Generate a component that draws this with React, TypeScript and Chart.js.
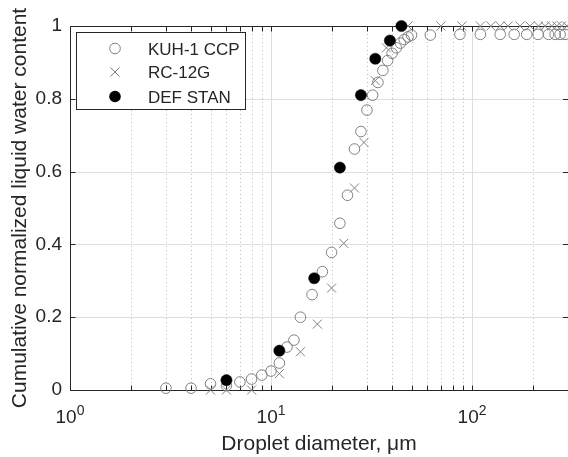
import React, { useEffect, useRef } from 'react';
import { Chart, registerables } from 'chart.js';

Chart.register(...registerables);

// ---- data ----
const kuhDiameter = [3, 4, 5, 6, 7, 8, 9, 10, 11, 12, 13, 14, 16, 18, 20, 22, 24, 26, 28, 30, 32, 34, 36, 38, 40, 42, 44, 46, 48, 50, 62, 87, 110, 138, 162, 187, 213, 240, 259, 274, 290];
const kuhLwc = [0.005, 0.005, 0.017, 0.012, 0.022, 0.03, 0.041, 0.052, 0.074, 0.118, 0.137, 0.2, 0.262, 0.325, 0.378, 0.458, 0.535, 0.662, 0.71, 0.769, 0.81, 0.845, 0.878, 0.905, 0.925, 0.94, 0.953, 0.963, 0.97, 0.975, 0.975, 0.977, 0.977, 0.977, 0.977, 0.977, 0.977, 0.977, 0.977, 0.977, 0.977];

const rcDiameter = [5, 6, 8, 11, 14, 17, 20, 23, 26, 29, 33, 37.5, 48, 70, 89, 110, 124, 138, 151, 173, 194, 214, 231, 249, 264, 279, 296];
const rcLwc = [0, 0, 0, 0.045, 0.105, 0.181, 0.28, 0.403, 0.555, 0.68, 0.85, 0.94, 1, 1, 1, 1, 1, 1, 1, 1, 1, 1, 1, 1, 1, 1, 1];

const defDiameter = [6, 11, 16.4, 22, 28, 33, 39, 44.5];
const defLwc = [0.027, 0.108, 0.307, 0.611, 0.81, 0.91, 0.96, 1.0];

const seriesNames = ['KUH-1 CCP', 'RC-12G', 'DEF STAN'];

const yTickValues = [0, 0.2, 0.4, 0.6, 0.8, 1];
const yTickLabels = ['0', '0.2', '0.4', '0.6', '0.8', '1'];
const xDecadeValues = [1, 10, 100];
const xDecadeBase = '10';
const xDecadeExponents = ['0', '1', '2'];
const xMinorValues = [2, 3, 4, 5, 6, 7, 8, 9, 20, 30, 40, 50, 60, 70, 80, 90, 200, 300];

const xTitle = 'Droplet diameter, \u03BCm';
const yTitle = 'Cumulative normalized liquid water content';

// ---- styles ----
const FONT = '"Liberation Sans", Arial, Helvetica, sans-serif';
const TEXT = '#262626';
const AXIS = '#262626';
const GRID = '#dedede';
const MINOR = '#bdbdbd';
const GRAY = '#808080';

const toPoints = (xs: number[], ys: number[]) => xs.map((v, i) => ({ x: v, y: ys[i] }));

const decorPlugin = {
  id: 'matlabDecor',
  beforeDatasetsDraw(chart: any) {
    const { ctx, chartArea: a, scales } = chart;
    const x = scales.x;
    const y = scales.y;
    ctx.save();
    ctx.lineWidth = 1;
    const line = (x1: number, y1: number, x2: number, y2: number) => {
      ctx.beginPath();
      ctx.moveTo(x1, y1);
      ctx.lineTo(x2, y2);
      ctx.stroke();
    };
    // minor dotted x grid
    ctx.strokeStyle = MINOR;
    ctx.setLineDash([1, 3]);
    for (const v of xMinorValues) {
      const px = Math.round(x.getPixelForValue(v)) + 0.5;
      if (px < a.right) line(px, a.top, px, a.bottom);
    }
    ctx.setLineDash([]);
    // major grid
    ctx.strokeStyle = GRID;
    for (const v of xDecadeValues) {
      const px = Math.round(x.getPixelForValue(v)) + 0.5;
      if (px > a.left + 1) line(px, a.top, px, a.bottom);
    }
    for (const v of yTickValues) {
      const py = Math.round(y.getPixelForValue(v)) + 0.5;
      if (py > a.top + 1 && py < a.bottom - 1) line(a.left, py, a.right, py);
    }
    // axes box
    ctx.strokeStyle = AXIS;
    const L = a.left + 0.5;
    const B = Math.round(a.bottom) + 0.5;
    const T = Math.round(a.top) + 0.5;
    line(L, T, L, B);
    line(L, B, a.right, B);
    line(L, T, a.right, T);
    // ticks
    const tl = 5;
    for (const v of [...xDecadeValues, ...xMinorValues]) {
      const px = Math.round(x.getPixelForValue(v)) + 0.5;
      if (px > a.right) continue;
      line(px, B, px, B - tl);
      line(px, T, px, T + tl);
    }
    for (const v of yTickValues) {
      const py = Math.round(y.getPixelForValue(v)) + 0.5;
      line(L, py, L + tl, py);
      line(a.right, py, a.right - tl, py);
    }
    ctx.restore();
  },
  afterDraw(chart: any) {
    const { ctx, chartArea: a, scales } = chart;
    const x = scales.x;
    ctx.save();
    // x decade labels with superscript exponents
    ctx.fillStyle = TEXT;
    ctx.textBaseline = 'alphabetic';
    ctx.textAlign = 'left';
    const baseFont = `19px ${FONT}`;
    const supFont = `14px ${FONT}`;
    xDecadeValues.forEach((v, i) => {
      const px = x.getPixelForValue(v);
      ctx.font = baseFont;
      const w1 = ctx.measureText(xDecadeBase).width;
      ctx.font = supFont;
      const w2 = ctx.measureText(xDecadeExponents[i]).width;
      const start = px - (w1 + w2) / 2;
      const base = a.bottom + 33;
      ctx.font = baseFont;
      ctx.fillText(xDecadeBase, start, base);
      ctx.font = supFont;
      ctx.fillText(xDecadeExponents[i], start + w1, base - 8);
    });

    // legend
    const box = { l: 76.5, t: 32.5, r: 245.5, b: 109.5 };
    ctx.fillStyle = '#ffffff';
    ctx.fillRect(box.l, box.t, box.r - box.l, box.b - box.t);
    ctx.strokeStyle = AXIS;
    ctx.lineWidth = 1;
    ctx.strokeRect(box.l, box.t, box.r - box.l, box.b - box.t);
    const rows = [48.5, 72, 96.5];
    const mx = 115;
    ctx.lineWidth = 1;
    ctx.strokeStyle = GRAY;
    ctx.beginPath();
    ctx.arc(mx, rows[0], 5.3, 0, Math.PI * 2);
    ctx.stroke();
    ctx.beginPath();
    ctx.moveTo(mx - 4.5, rows[1] - 4.5);
    ctx.lineTo(mx + 4.5, rows[1] + 4.5);
    ctx.moveTo(mx - 4.5, rows[1] + 4.5);
    ctx.lineTo(mx + 4.5, rows[1] - 4.5);
    ctx.stroke();
    ctx.fillStyle = '#000000';
    ctx.beginPath();
    ctx.arc(mx, rows[2], 5.8, 0, Math.PI * 2);
    ctx.fill();
    ctx.fillStyle = TEXT;
    ctx.font = `17px ${FONT}`;
    ctx.textBaseline = 'middle';
    seriesNames.forEach((s, i) => ctx.fillText(s, 148, rows[i] + 1.5));
    ctx.restore();
  },
};

export default function App() {
  const ref = useRef<HTMLCanvasElement | null>(null);
  useEffect(() => {
    if (!ref.current) return;
    const chart = new Chart(ref.current, {
      type: 'scatter',
      data: {
        datasets: [
          {
            label: seriesNames[0],
            data: toPoints(kuhDiameter, kuhLwc),
            pointStyle: 'circle',
            pointRadius: 5.3,
            pointHoverRadius: 5.3,
            borderColor: GRAY,
            backgroundColor: 'rgba(0,0,0,0)',
            pointBorderWidth: 1,
            order: 2,
            clip: false as any,
          },
          {
            label: seriesNames[1],
            data: toPoints(rcDiameter, rcLwc),
            pointStyle: 'crossRot',
            pointRadius: 6.4,
            pointHoverRadius: 6.4,
            borderColor: GRAY,
            backgroundColor: GRAY,
            pointBorderWidth: 1,
            order: 1,
            clip: false as any,
          },
          {
            label: seriesNames[2],
            data: toPoints(defDiameter, defLwc),
            pointStyle: 'circle',
            pointRadius: 5.6,
            pointHoverRadius: 5.6,
            borderColor: '#000000',
            backgroundColor: '#000000',
            pointBorderWidth: 0.5,
            order: 0,
            clip: false as any,
          },
        ],
      },
      options: {
        responsive: false,
        animation: false,
        events: [],
        layout: { autoPadding: false, padding: { top: 26, right: 0, left: 0, bottom: 0 } },
        plugins: { legend: { display: false }, tooltip: { enabled: false } },
        scales: {
          x: {
            type: 'logarithmic',
            min: 1,
            max: 300,
            ticks: { display: false },
            grid: { display: false, drawTicks: false },
            border: { display: false },
            title: {
              display: true,
              text: xTitle,
              color: TEXT,
              font: { family: FONT, size: 21, weight: 'normal' },
              padding: { top: 0, bottom: 0 },
            },
            afterFit: (s: any) => {
              s.height = 67;
            },
          },
          y: {
            type: 'linear',
            min: 0,
            max: 1,
            afterBuildTicks: (s: any) => {
              s.ticks = yTickValues.map((v) => ({ value: v }));
            },
            ticks: {
              color: TEXT,
              font: { family: FONT, size: 19 },
              padding: 8,
              callback: (_v: any, i: number) => yTickLabels[i],
            },
            grid: { display: false, drawTicks: false },
            border: { display: false },
            title: {
              display: true,
              text: yTitle,
              color: TEXT,
              font: { family: FONT, size: 21, weight: 'normal' },
              padding: { top: 8, bottom: 0 },
            },
            afterFit: (s: any) => {
              s.width = 70;
            },
          },
        },
      } as any,
      plugins: [decorPlugin],
    });
    return () => chart.destroy();
  }, []);
  return (
    <div style={{ position: 'fixed', left: 0, top: 0, width: 568, height: 457, background: '#fff' }}>
      <canvas ref={ref} width={568} height={457} style={{ width: 568, height: 457, display: 'block' }} />
    </div>
  );
}
